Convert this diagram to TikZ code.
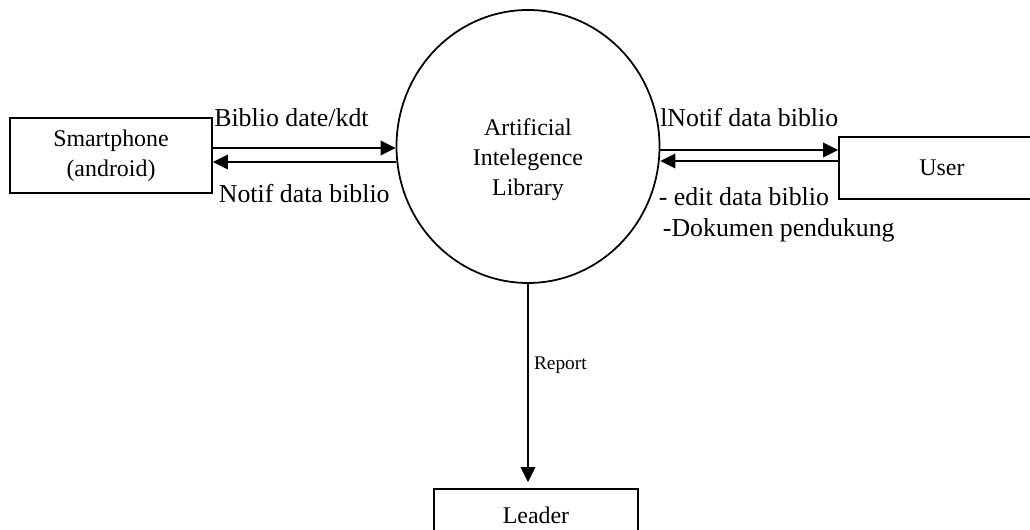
\documentclass[tikz,border=0pt]{standalone}
\usepackage{fontspec}
\setmainfont{Liberation Serif}
\usetikzlibrary{shapes.geometric, arrows.meta, positioning}

\begin{document}
\begin{tikzpicture}[
    process/.style={ellipse, draw, line width=1pt, minimum width=5.26cm, minimum height=5.46cm, align=center, inner sep=0pt},
    entity/.style={rectangle, draw, line width=1pt, align=center},
    flow/.style={-{Triangle[length=3mm, width=2.9mm]}, line width=1.2pt},
    lbl/.style={font=\fontsize{14.7}{17.6}\selectfont, inner sep=0pt, align=left},
    small lbl/.style={font=\fontsize{11}{13}\selectfont, inner sep=0pt},
    every node/.append style={font=\fontsize{13.6}{17}\selectfont}
]
    \useasboundingbox (0,0) rectangle (20.6,10.6);
    \clip (0,0) rectangle (20.6,10.6);

    % Process and entities
    \node[process] (ai) at (10.56,7.67) {\rule{0pt}{0.85cm}Artificial\\Intelegence\\Library};
    \node[entity, minimum width=4.04cm, minimum height=1.5cm] (phone) at (2.22,7.49) {Smartphone\\(android)};
    \node[entity, minimum width=4.12cm, minimum height=1.24cm] (user) at (18.84,7.24) {User};
    \node[entity, minimum width=4.08cm, minimum height=1.04cm] (leader) at (10.72,0.30) {Leader};

    % Flows
    \draw[flow] ([yshift=1.5mm]phone.east) -- node[lbl, pos=.43, anchor=base, yshift=4.2mm] {Biblio date/kdt} ([yshift=1.5mm]phone.east -| ai.west);
    \draw[flow] ([yshift=-1.3mm]phone.east -| ai.west) -- node[lbl, anchor=base, yshift=-8.2mm] {Notif data biblio} ([yshift=-1.3mm]phone.east);
    \draw[flow] ([yshift=3.6mm]user.west -| ai.east) -- node[lbl, anchor=base, yshift=4.6mm] {lNotif data biblio} ([yshift=3.6mm]user.west);
    \draw[flow] ([yshift=1.4mm]user.west) -- node[lbl, pos=1, anchor=north west, xshift=-0.5mm, yshift=-5.2mm] {- edit data biblio\\\hspace{0.8mm}-Dokumen pendukung} ([yshift=1.4mm]user.west -| ai.east);
    \draw[flow, shorten >=1.2mm] (ai.south) -- node[small lbl, pos=.42, anchor=base west, xshift=1mm] {Report} (ai.south |- leader.north);
\end{tikzpicture}
\end{document}
